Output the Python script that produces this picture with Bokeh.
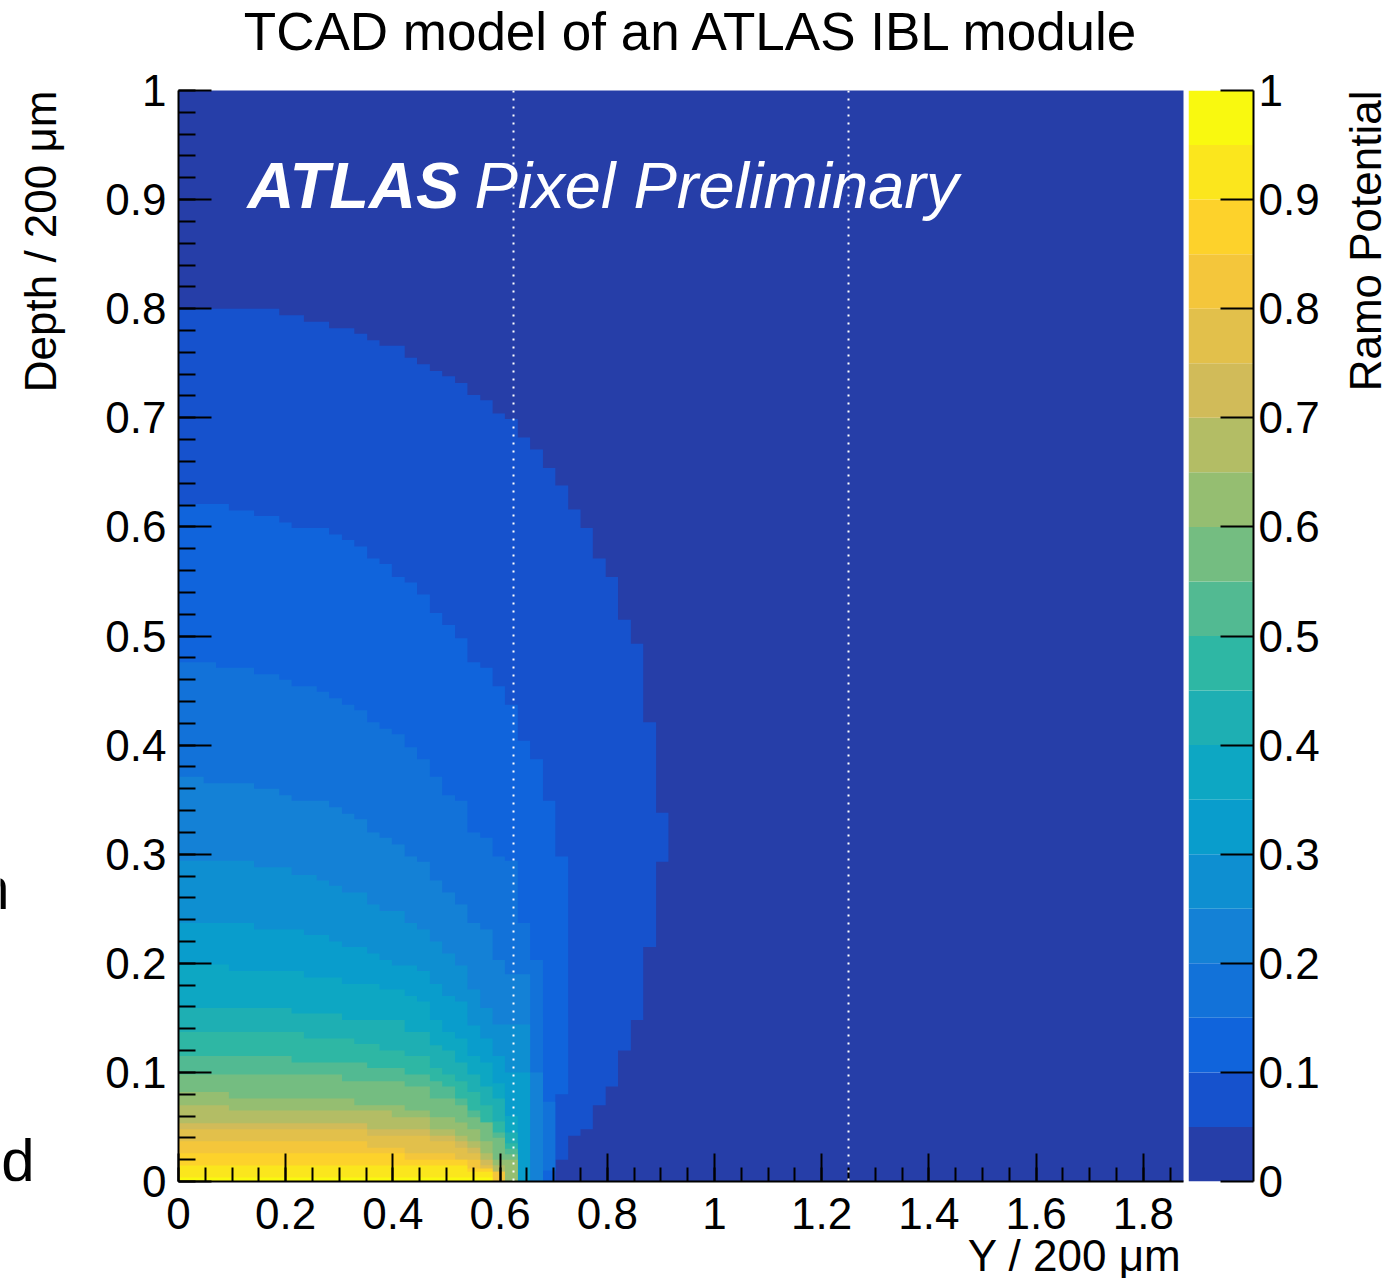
import numpy as np
from bokeh.plotting import figure
from bokeh.models import Range1d, FixedTicker, Label, Span, Title
from bokeh.layouts import row, column
from bokeh.embed import file_html
from bokeh.resources import INLINE

FONT = "Liberation Sans"

# ---------------- data ----------------
# Contour levels of the Ramo potential (20 equal bands)
level_edges = [0.0, 0.05, 0.10, 0.15, 0.20, 0.25, 0.30, 0.35, 0.40, 0.45, 0.50,
               0.55, 0.60, 0.65, 0.70, 0.75, 0.80, 0.85, 0.90, 0.95, 1.0]

# Region where potential >= threshold: for each step, the depth at the step top
# and the Y extent (right edge) of the region below that depth.
L05_top = [0.800, 0.794, 0.788, 0.782, 0.777, 0.771, 0.766, 0.755, 0.749, 0.743, 0.738, 0.732,
           0.721, 0.716, 0.704, 0.699, 0.682, 0.671, 0.654, 0.638, 0.616, 0.599, 0.571, 0.554,
           0.515, 0.493, 0.421, 0.338, 0.293, 0.215, 0.148, 0.120, 0.087, 0.070, 0.048, 0.042,
           0.020, 0.009]
L05_y = [0.188, 0.234, 0.281, 0.328, 0.352, 0.375, 0.422, 0.445, 0.469, 0.492, 0.516, 0.539,
         0.563, 0.586, 0.609, 0.633, 0.656, 0.680, 0.703, 0.727, 0.750, 0.773, 0.797, 0.820,
         0.844, 0.867, 0.891, 0.914, 0.891, 0.867, 0.844, 0.820, 0.797, 0.773, 0.750, 0.727,
         0.703, 0.680]

L10_top = [0.621, 0.615, 0.610, 0.604, 0.599, 0.593, 0.588, 0.582, 0.571, 0.566, 0.554, 0.549,
           0.538, 0.521, 0.510, 0.498, 0.476, 0.471, 0.454, 0.437, 0.404, 0.387, 0.349, 0.298,
           0.080]
L10_y = [0.094, 0.141, 0.188, 0.211, 0.281, 0.305, 0.328, 0.352, 0.375, 0.398, 0.422, 0.445,
         0.469, 0.492, 0.516, 0.539, 0.563, 0.586, 0.609, 0.633, 0.656, 0.680, 0.703, 0.727,
         0.703]

L15_top = [0.476, 0.471, 0.465, 0.460, 0.454, 0.449, 0.443, 0.437, 0.432, 0.421, 0.415, 0.410,
           0.398, 0.387, 0.371, 0.354, 0.349, 0.320, 0.315, 0.298, 0.294, 0.237, 0.203, 0.073,
           0.010]
L15_y = [0.070, 0.141, 0.188, 0.211, 0.258, 0.281, 0.305, 0.328, 0.352, 0.375, 0.398, 0.422,
         0.445, 0.469, 0.492, 0.516, 0.539, 0.563, 0.586, 0.609, 0.633, 0.656, 0.680, 0.703,
         0.680]

L20_top = [0.371, 0.365, 0.360, 0.354, 0.349, 0.343, 0.337, 0.332, 0.320, 0.315, 0.309, 0.298,
           0.293, 0.276, 0.265, 0.254, 0.237, 0.231, 0.203, 0.190, 0.100]
L20_y = [0.047, 0.141, 0.188, 0.211, 0.281, 0.305, 0.328, 0.352, 0.375, 0.398, 0.422, 0.445,
         0.469, 0.492, 0.516, 0.539, 0.563, 0.586, 0.609, 0.656, 0.680]

L25_top = [0.294, 0.288, 0.281, 0.276, 0.271, 0.265, 0.254, 0.248, 0.237, 0.231, 0.220, 0.209,
           0.198, 0.176, 0.159, 0.144]
L25_y = [0.141, 0.211, 0.258, 0.281, 0.305, 0.352, 0.375, 0.422, 0.445, 0.469, 0.492, 0.516,
         0.539, 0.563, 0.586, 0.656]

L30_top = [0.237, 0.231, 0.226, 0.220, 0.215, 0.209, 0.203, 0.198, 0.193, 0.181, 0.170, 0.165,
           0.143, 0.131, 0.115, 0.100]
L30_y = [0.141, 0.234, 0.281, 0.305, 0.352, 0.375, 0.398, 0.445, 0.469, 0.492, 0.516, 0.539,
         0.563, 0.586, 0.609, 0.656]

L35_top = [0.199, 0.193, 0.187, 0.181, 0.176, 0.170, 0.165, 0.148, 0.137, 0.131, 0.115, 0.109,
           0.090, 0.060]
L35_y = [0.094, 0.234, 0.305, 0.375, 0.422, 0.445, 0.469, 0.492, 0.516, 0.539, 0.563, 0.586,
         0.609, 0.633]

L40_top = [0.159, 0.154, 0.148, 0.137, 0.125, 0.120, 0.109, 0.098, 0.087, 0.076, 0.045]
L40_y = [0.211, 0.305, 0.422, 0.469, 0.492, 0.516, 0.539, 0.563, 0.586, 0.609, 0.633]

L45_top = [0.137, 0.131, 0.126, 0.120, 0.115, 0.104, 0.098, 0.092, 0.082, 0.070, 0.055, 0.035]
L45_y = [0.234, 0.328, 0.375, 0.422, 0.469, 0.492, 0.516, 0.539, 0.563, 0.586, 0.609, 0.633]

L50_top = [0.115, 0.109, 0.104, 0.098, 0.092, 0.087, 0.076, 0.065, 0.054, 0.045, 0.030]
L50_y = [0.211, 0.352, 0.422, 0.469, 0.492, 0.516, 0.539, 0.563, 0.586, 0.609, 0.633]

L55_top = [0.098, 0.092, 0.087, 0.076, 0.070, 0.059, 0.054, 0.040, 0.025]
L55_y = [0.305, 0.422, 0.469, 0.516, 0.539, 0.563, 0.586, 0.609, 0.633]

L60_top = [0.082, 0.076, 0.070, 0.065, 0.059, 0.054, 0.048, 0.037, 0.020]
L60_y = [0.094, 0.328, 0.422, 0.469, 0.516, 0.539, 0.563, 0.586, 0.633]

L65_top = [0.070, 0.065, 0.059, 0.048, 0.042, 0.037, 0.026, 0.015]
L65_y = [0.094, 0.398, 0.469, 0.516, 0.539, 0.563, 0.586, 0.609]

L70_top = [0.0535, 0.048, 0.042, 0.037, 0.031, 0.020, 0.009]
L70_y = [0.352, 0.469, 0.516, 0.539, 0.563, 0.586, 0.609]

L75_top = [0.048, 0.042, 0.037, 0.031, 0.026, 0.015, 0.009]
L75_y = [0.352, 0.469, 0.516, 0.539, 0.563, 0.586, 0.609]

L80_top = [0.037, 0.031, 0.026, 0.020, 0.009]
L80_y = [0.352, 0.422, 0.516, 0.563, 0.609]

L85_top = [0.026, 0.020, 0.012]
L85_y = [0.422, 0.539, 0.586]

L90_top = [0.0147, 0.009]
L90_y = [0.539, 0.586]

L95_top = [0.0037]
L95_y = [0.586]

# pixel boundaries (dotted lines)
pixel_edges = [0.625, 1.25]

# axis ticks and labels
x_ticks = [0.0, 0.2, 0.4, 0.6, 0.8, 1.0, 1.2, 1.4, 1.6, 1.8]
x_tick_labels = ["0", "0.2", "0.4", "0.6", "0.8", "1", "1.2", "1.4", "1.6", "1.8"]
y_ticks = [0.0, 0.1, 0.2, 0.3, 0.4, 0.5, 0.6, 0.7, 0.8, 0.9, 1.0]
y_tick_labels = ["0", "0.1", "0.2", "0.3", "0.4", "0.5", "0.6", "0.7", "0.8", "0.9", "1"]

# ---------------- palette (ROOT kBird, 20 contours) ----------------
stops = [0.0000, 0.1250, 0.2500, 0.3750, 0.5000, 0.6250, 0.7500, 0.8750, 1.0000]
red = [0.2082, 0.0592, 0.0780, 0.0232, 0.1802, 0.5301, 0.8186, 0.9956, 0.9764]
green = [0.1664, 0.3599, 0.5041, 0.6419, 0.7178, 0.7492, 0.7328, 0.7862, 0.9832]
blue = [0.5293, 0.8684, 0.8385, 0.7914, 0.6425, 0.4662, 0.3499, 0.1968, 0.0539]


def gradient(n=255):
    cols = []
    for g in range(1, len(stops)):
        ng = int(np.floor(n * stops[g])) - int(np.floor(n * stops[g - 1]))
        for c in range(ng):
            f = c / ng
            r = red[g - 1] + f * (red[g] - red[g - 1])
            gg = green[g - 1] + f * (green[g] - green[g - 1])
            b = blue[g - 1] + f * (blue[g] - blue[g - 1])
            cols.append("#%02x%02x%02x" % (int(r * 255 + 0.5), int(gg * 255 + 0.5), int(b * 255 + 0.5)))
    return cols


grad = gradient()
nlev = len(level_edges) - 1
level_colors = [grad[int((i + 0.99) * len(grad) / nlev)] for i in range(nlev)]

regions = [(L05_top, L05_y), (L10_top, L10_y), (L15_top, L15_y), (L20_top, L20_y),
           (L25_top, L25_y), (L30_top, L30_y), (L35_top, L35_y), (L40_top, L40_y),
           (L45_top, L45_y), (L50_top, L50_y), (L55_top, L55_y), (L60_top, L60_y),
           (L65_top, L65_y), (L70_top, L70_y), (L75_top, L75_y), (L80_top, L80_y),
           (L85_top, L85_y), (L90_top, L90_y), (L95_top, L95_y)]


def staircase(tops, edges):
    xs, ys = [0.0], [tops[0]]
    for i, (t, e) in enumerate(zip(tops, edges)):
        nxt = tops[i + 1] if i + 1 < len(tops) else 0.0
        xs += [e, e]
        ys += [t, nxt]
    xs.append(0.0)
    ys.append(0.0)
    return xs, ys


poly_x, poly_y = [], []
for tops, edges in regions:
    a, b = staircase(tops, edges)
    poly_x.append(a)
    poly_y.append(b)

# text baseline correction (Bokeh's alphabetic baseline sits ~0.4 em low)
BL = 0.40

# canvas geometry (pixels)
TOP_H = 62                    # title strip height
FRAME_TOP = 90                # top of plot frame
FRAME_H = 1091                # plot frame height
BORDER_T = FRAME_TOP - TOP_H  # top border of the row figures
BORDER_B = 97                 # bottom border of the row figures


def blank(width, height, x0, x1, y_bottom, y_top, bt=0, bb=0):
    f = figure(frame_width=width, frame_height=height,
               x_range=Range1d(x0, x1), y_range=Range1d(y_bottom, y_top),
               x_axis_location=None, y_axis_location=None,
               min_border_left=0, min_border_right=0, min_border_top=bt, min_border_bottom=bb,
               output_backend="svg", toolbar_location=None)
    f.outline_line_color = None
    f.grid.visible = False
    f.background_fill_color = "white"
    f.border_fill_color = "white"
    return f


# ---------------- title strip ----------------
tf = blank(1398, TOP_H, 0, 1398, TOP_H, 0)
tf.add_layout(Label(x=692, y=52 - BL * 53, text="TCAD model of an ATLAS IBL module",
                    text_font=FONT, text_font_size="53px", text_align="center",
                    text_baseline="alphabetic", text_color="black"))

# ---------------- left strip (y-axis title and cut-off text) ----------------
# data coordinates of the strip equal screen pixels
lf = blank(100, FRAME_H, 0, 100, FRAME_TOP + FRAME_H, FRAME_TOP, BORDER_T, BORDER_B)
lf.add_layout(Label(x=58 - BL * 44, y=90, text="Depth / 200 μm", angle=np.pi / 2,
                    text_font=FONT, text_font_size="44px", text_align="right",
                    text_baseline="alphabetic", text_color="black"))
lf.add_layout(Label(x=34, y=1184 - BL * 60, text="d", text_font=FONT, text_font_size="60px",
                    text_align="right", text_baseline="alphabetic", text_color="black"))
lf.add_layout(Label(x=9, y=912 - BL * 60, text="n", text_font=FONT, text_font_size="60px",
                    text_align="right", text_baseline="alphabetic", text_color="black"))

# ---------------- main figure ----------------
p = figure(frame_width=1005, frame_height=FRAME_H,
           x_range=Range1d(0, 1.875), y_range=Range1d(0, 1),
           min_border_left=78, min_border_right=5, min_border_top=BORDER_T, min_border_bottom=BORDER_B,
           output_backend="svg", toolbar_location=None)
p.background_fill_color = level_colors[0]
p.border_fill_color = "white"
p.outline_line_color = None
p.grid.visible = False

p.patches(poly_x, poly_y, fill_color=level_colors[1:], line_color=None)

for v in pixel_edges:
    p.add_layout(Span(location=v, dimension="height", line_color="white",
                      line_dash="2 6", line_width=2))

p.xaxis.ticker = FixedTicker(ticks=x_ticks,
                             minor_ticks=[round(v, 3) for v in np.arange(0, 1.876, 0.05)])
p.yaxis.ticker = FixedTicker(ticks=y_ticks,
                             minor_ticks=[round(v, 3) for v in np.arange(0, 1.001, 0.02)])
p.xaxis.major_label_overrides = dict(zip(x_ticks, x_tick_labels))
p.yaxis.major_label_overrides = dict(zip(y_ticks, y_tick_labels))

for ax in (p.xaxis[0], p.yaxis[0]):
    ax.axis_line_width = 2
    ax.axis_line_color = "black"
    ax.major_tick_out = 0
    ax.minor_tick_out = 0
    ax.major_tick_line_width = 2
    ax.minor_tick_line_width = 2
    ax.major_label_text_font = FONT
    ax.major_label_text_font_size = "44px"
    ax.major_label_text_color = "black"
p.xaxis.major_tick_in = 28
p.xaxis.minor_tick_in = 14
p.yaxis.major_tick_in = 33
p.yaxis.minor_tick_in = 17
p.xaxis.major_label_standoff = 16
p.yaxis.major_label_standoff = 12

p.add_layout(Title(text="Y / 200 μm", align="right", offset=2, standoff=-6,
                   text_font=FONT, text_font_size="44px", text_font_style="normal",
                   text_color="black"), "below")


def dx(px):
    return (px - 178) / 536.0


def dy(py):
    return (1181 - py) / 1091.0


p.add_layout(Label(x=dx(247), y=dy(211 - BL * 65), text="ATLAS",
                   text_font=FONT, text_font_style="bold italic", text_font_size="65px",
                   text_align="left", text_baseline="alphabetic", text_color="white"))
p.add_layout(Label(x=dx(474), y=dy(211 - BL * 65), text="Pixel Preliminary",
                   text_font=FONT, text_font_style="italic", text_font_size="65px",
                   text_align="left", text_baseline="alphabetic", text_color="white"))

# ---------------- colour bar ----------------
cb = figure(frame_width=65, frame_height=FRAME_H,
            x_range=Range1d(0, 1), y_range=Range1d(0, 1),
            x_axis_location=None, y_axis_location="right",
            min_border_left=0, min_border_right=80, min_border_top=BORDER_T, min_border_bottom=BORDER_B,
            output_backend="svg", toolbar_location=None)
cb.outline_line_color = None
cb.grid.visible = False
cb.border_fill_color = "white"
cb.quad(left=cb.x_range.start, right=cb.x_range.end,
        bottom=level_edges[:-1], top=level_edges[1:],
        fill_color=level_colors, line_color=None)
cb.yaxis.ticker = FixedTicker(ticks=y_ticks, minor_ticks=[])
cb.yaxis.major_label_overrides = dict(zip(y_ticks, y_tick_labels))
cb.yaxis.axis_line_width = 2
cb.yaxis.axis_line_color = "black"
cb.yaxis.major_tick_in = 33
cb.yaxis.major_tick_out = 0
cb.yaxis.major_tick_line_width = 2
cb.yaxis.minor_tick_line_color = None
cb.yaxis.major_label_text_font = FONT
cb.yaxis.major_label_text_font_size = "44px"
cb.yaxis.major_label_text_color = "black"
cb.yaxis.major_label_standoff = 5

# ---------------- right strip (colour-bar title) ----------------
rf = blank(65, FRAME_H, 1333, 1398, FRAME_TOP + FRAME_H, FRAME_TOP, BORDER_T, BORDER_B)
rf.add_layout(Label(x=1383 - BL * 44, y=90, text="Ramo Potential", angle=np.pi / 2,
                    text_font=FONT, text_font_size="44px", text_align="right",
                    text_baseline="alphabetic", text_color="black"))

layout = column(tf, row(lf, p, cb, rf))
open("out.html", "w").write(file_html(layout, INLINE))
